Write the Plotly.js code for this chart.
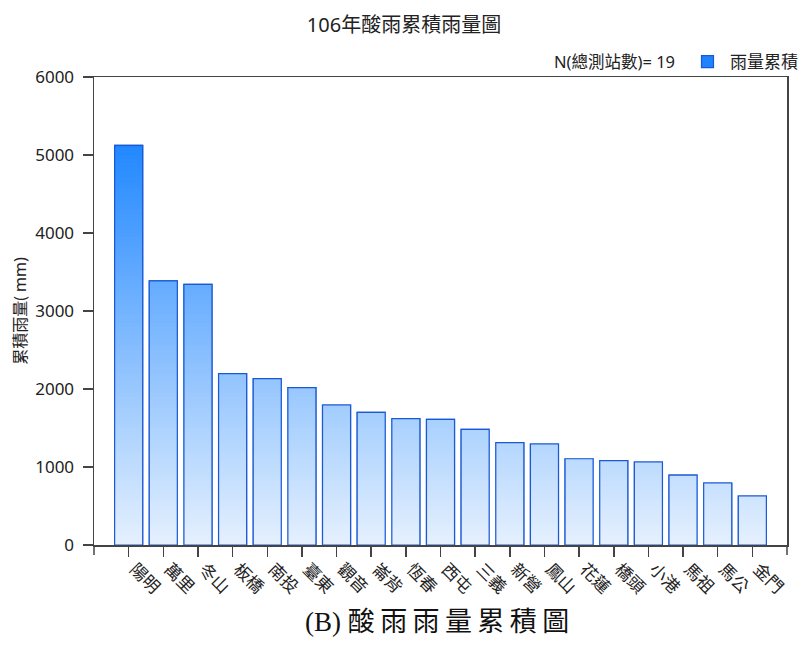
<!DOCTYPE html>
<html><head><meta charset="utf-8">
<script src="https://cdn.plot.ly/plotly-3.0.1.min.js"></script>
<style>html,body{margin:0;padding:0;background:#fff}</style>
</head><body><div id="chart" style="width:802px;height:648px"></div>
<script>
const stations = ["陽明","萬里","冬山","板橋","南投","臺東","觀音","崙背","恆春","西屯","三義","新營","鳳山","花蓮","橋頭","小港","馬祖","馬公","金門"];
const rainfall = [5124,3385,3342,2196,2132,2017,1795,1701,1619,1611,1483,1312,1295,1106,1081,1064,897,795,628];
const yTicks = [0,1000,2000,3000,4000,5000,6000];
const titleText = "106年酸雨累積雨量圖";
const yTitle = "累積雨量( mm)";
const seriesName = "雨量累積";
const stationCountText = "N(總測站數)= 19";
const caption = "(B) 酸雨雨量累積圖";

const FONT = "'Noto Sans', 'Noto Sans CJK TC', sans-serif";
const light = [230,241,254], dark = [30,134,255], colorTop = 5200;
function col(v){
  const t = Math.max(0, Math.min(1, v/colorTop));
  const c = light.map((l,i)=>Math.round(l + (dark[i]-l)*t));
  return `rgb(${c[0]},${c[1]},${c[2]})`;
}
const step = 50;
const maxV = Math.max(...rainfall);
const topLevel = Math.ceil(maxV/step)*step;
const traces = [];
for (let L = topLevel; L >= step; L -= step) {
  const first = (L === topLevel);
  traces.push({
    type: 'bar', x: stations, y: rainfall.map(v => Math.min(v, L)),
    name: seriesName, showlegend: first, hoverinfo: 'skip',
    marker: {color: first ? '#1f83ff' : col(L - step/2),
             line: {color: '#1a58d4', width: first ? 1.2 : 0}}
  });
}
traces.push({
  type: 'bar', x: stations, y: rainfall, showlegend: false, hoverinfo: 'skip',
  marker: {color: 'rgba(0,0,0,0)', line: {color: '#1a58d4', width: 1.2}}
});

// plot area in pixels: x 94..787, y 77..545
const PL = 94, PR = 787, PT = 77, PB = 545;
const px2x = p => (p - PL) / (PR - PL);
const px2y = p => (PB - p) / (PB - PT);
const spacedCaption = caption.replace(/([\u4e00-\u9fff])(?=[\u4e00-\u9fff])/g, '$1\u2009');

const layout = {
  width: 802, height: 648,
  margin: {l: PL, r: 802 - PR, t: PT, b: 648 - PB, autoexpand: false},
  paper_bgcolor: '#fff', plot_bgcolor: '#fff',
  font: {family: FONT, size: 16, color: '#222'},
  title: {text: titleText, x: 404/802, xref: 'container', y: 1 - 25/648, yref: 'container', yanchor: 'middle', xanchor: 'center',
          font: {family: FONT, size: 20, color: '#222'}},
  barmode: 'overlay', bargap: 0.19,
  showlegend: true,
  legend: {xref: 'container', yref: 'container', x: 685/802, y: 1 - 62/648, xanchor: 'left', yanchor: 'middle',
           bgcolor: 'rgba(0,0,0,0)', font: {family: FONT, size: 17, color: '#222'}, itemwidth: 35},
  xaxis: {type: 'category', range: [-1, 19], tickangle: 45, ticks: 'outside', ticklen: 10, tickcolor: '#444', tickwidth: 1.5,
          showline: true, mirror: true, linecolor: '#444', linewidth: 1.5, showgrid: false, zeroline: false,
          tickfont: {family: FONT, size: 17, color: '#222'}, automargin: false, ticklabelshift: 6, ticklabelstandoff: -4},
  yaxis: {range: [0, 6000], tickvals: yTicks, ticktext: yTicks.map(String), ticks: 'outside', ticklen: 10, tickcolor: '#444', tickwidth: 1.5,
          showline: true, mirror: true, linecolor: '#444', linewidth: 1.5, showgrid: false, zeroline: false,
          tickfont: {family: FONT, size: 17, color: '#222'}, automargin: false, ticklabelstandoff: 5,
          title: {text: yTitle, font: {family: FONT, size: 16, color: '#222'}, standoff: 4}},
  shapes: [0, 1].map(px => ({type: 'line', xref: 'paper', yref: 'paper', x0: px, x1: px, ysizemode: 'pixel', yanchor: 0, y0: 0, y1: -10,
          line: {color: '#444', width: 1.5}})),
  annotations: [
    {text: stationCountText, xref: 'paper', yref: 'paper', x: px2x(677), y: px2y(62), xanchor: 'right', yanchor: 'middle',
     showarrow: false, font: {family: FONT, size: 16.5, color: '#222'}},
    {text: spacedCaption, xref: 'paper', yref: 'paper', x: px2x(437), y: px2y(622), xanchor: 'center', yanchor: 'middle',
     showarrow: false, font: {family: "'Liberation Serif', 'Noto Sans CJK TC', serif", size: 27, color: '#111'}}
  ]
};
Plotly.newPlot('chart', traces, layout, {displayModeBar: false, staticPlot: true});
</script></body></html>
